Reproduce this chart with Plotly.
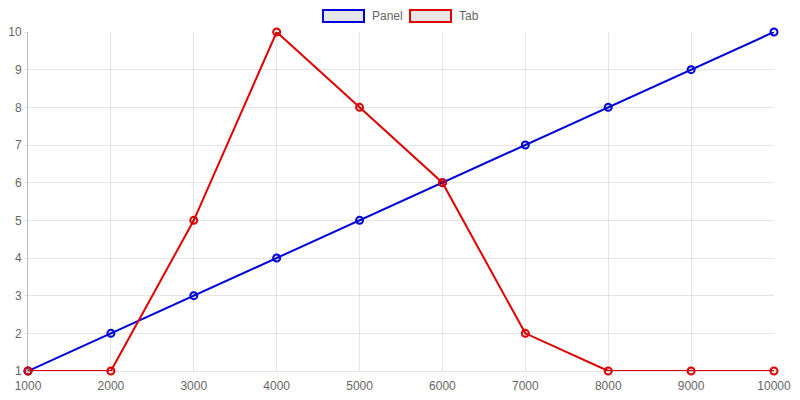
import plotly.graph_objects as go

# datos del gráfico
x_vals = [1000, 2000, 3000, 4000, 5000, 6000, 7000, 8000, 9000, 10000]
x_labels = [str(v) for v in x_vals]
panel = [1, 2, 3, 4, 5, 6, 7, 8, 9, 10]
tab = [1, 1, 5, 10, 8, 6, 2, 1, 1, 1]

blue = "#0000dd"
red = "#e00000"
OFF = 8  # margen del body de la página
W, H = 800 - 2 * OFF, 400 - 2 * OFF
# bordes del área de trazado en px de la página
PL, PR, PT, PB = 28, 774, 32, 371
L, R, T, B = PL - OFF, W - (PR - OFF), PT - OFF, H - (PB - OFF)

fig = go.Figure()
for name, ys, col in [("Panel", panel, blue), ("Tab", tab, red)]:
    fig.add_trace(go.Scatter(
        x=x_vals, y=ys, name=name, mode="lines+markers",
        line=dict(color=col, width=2),
        marker=dict(symbol="circle", size=7, color="rgba(0,0,0,0.1)",
                    line=dict(color=col, width=2)),
        cliponaxis=False, showlegend=False,
    ))

# leyenda estilo caja (coordenadas en px de la página)
def px_x(p):
    return (p - PL) / (PR - PL)

def px_y(p):
    return 1 - (p - PT) / (PB - PT)

shapes = []
annotations = []
for x0, x1, col, label, tx in [(323, 364, blue, "Panel", 370), (410, 451, red, "Tab", 457)]:
    shapes.append(dict(type="rect", xref="paper", yref="paper",
                       x0=px_x(x0), x1=px_x(x1), y0=px_y(22), y1=px_y(10),
                       fillcolor="rgba(0,0,0,0.1)", line=dict(color=col, width=2)))
    annotations.append(dict(xref="paper", yref="paper", x=px_x(tx), y=px_y(16),
                            text=label, showarrow=False, xanchor="left", yanchor="middle",
                            font=dict(size=12, color="#666")))

fig.update_layout(
    width=W, height=H,
    margin=dict(l=L, r=R, t=T, b=B, autoexpand=False),
    plot_bgcolor="white", paper_bgcolor="white",
    font=dict(family="Liberation Sans, Arial, sans-serif", size=12, color="#666"),
    shapes=shapes, annotations=annotations,
    xaxis=dict(range=[1000, 10000], tickvals=x_vals, ticktext=x_labels,
               gridcolor="rgba(0,0,0,0.1)", automargin=False,
               showline=True, linecolor="rgba(0,0,0,0.1)", zeroline=False,
               ticks="outside", ticklen=3, tickcolor="rgba(0,0,0,0)",
               ticklabelstandoff=1),
    yaxis=dict(range=[1, 10], dtick=1, gridcolor="rgba(0,0,0,0.1)", automargin=False,
               showline=True, linecolor="rgba(0,0,0,0.25)", zeroline=False,
               ticks="outside", ticklen=3, tickcolor="rgba(0,0,0,0.1)",
               ticklabelstandoff=0),
)

fig.write_html("out.html")
